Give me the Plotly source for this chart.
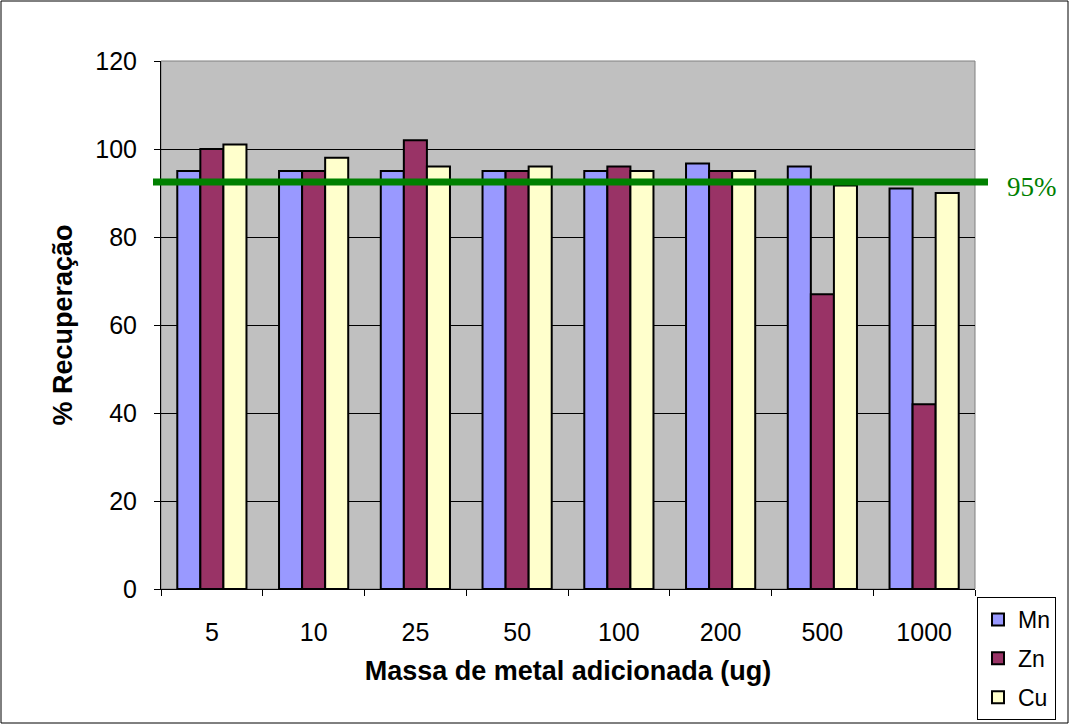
import plotly.graph_objects as go

categories = ["5", "10", "25", "50", "100", "200", "500", "1000"]
mn = [95, 95, 95, 95, 95, 96.7, 96, 91]
zn = [100, 95, 102, 95, 96, 95, 67, 42]
cu = [101, 98, 96, 96, 95, 95, 91.7, 90]
ref_line = 92.5
ref_label = "95%"

W, H = 1070, 725
L, R, T, B = 161, 95, 61, 136
pw = W - L - R
ph = H - T - B

fig = go.Figure()
for name, vals, col in [("Mn", mn, "#9999FF"), ("Zn", zn, "#993366"), ("Cu", cu, "#FFFFCC")]:
    fig.add_trace(go.Bar(x=categories, y=vals, name=name, legendgroup=name,
                         marker=dict(color=col, line=dict(color="black", width=2))))

fig.update_layout(
    width=W, height=H,
    margin=dict(l=L, r=R, t=T, b=B, autoexpand=False),
    paper_bgcolor="white",
    plot_bgcolor="#C0C0C0",
    barmode="group",
    bargap=0.32,
    bargroupgap=0,
    font=dict(family="Liberation Sans, Arial, sans-serif", color="black", size=25),
    showlegend=True,
    legend=dict(x=(977 - L) / pw, y=-(597 - (H - B)) / ph, xanchor="left", yanchor="top",
                bgcolor="white", bordercolor="black", borderwidth=1,
                font=dict(size=23), traceorder="grouped", tracegroupgap=6, itemwidth=30),
    xaxis=dict(
        type="category", tickson="boundaries", ticks="outside", ticklen=6,
        tickcolor="black", showline=True, linecolor="black", linewidth=1,
        showgrid=False, ticklabelstandoff=21, automargin=False,
        title=dict(text="<b>Massa de metal adicionada (ug)</b>", standoff=16,
                   font=dict(size=27)),
    ),
    yaxis=dict(
        range=[0, 120], dtick=20, ticks="outside", ticklen=6, tickcolor="black",
        showline=True, linecolor="black", linewidth=1,
        showgrid=True, gridcolor="black", gridwidth=1, zeroline=False,
        ticklabelstandoff=12, automargin=False,
        title=dict(text="<b>% Recuperação</b>", standoff=14, font=dict(size=27)),
    ),
    shapes=[
        dict(type="rect", xref="paper", yref="paper", x0=0, x1=1, y0=0, y1=1,
             line=dict(color="#808080", width=1), layer="below"),
        dict(type="line", xref="paper", yref="y", x0=(153 - L) / pw, x1=(988 - L) / pw,
             y0=ref_line, y1=ref_line, line=dict(color="#008000", width=7)),
        dict(type="rect", xref="paper", yref="paper",
             x0=(1 - L) / pw, x1=(W - 2 - L) / pw,
             y0=-(H - 2 - (H - B)) / ph, y1=1 + (T - 1) / ph,
             line=dict(color="black", width=1), layer="below"),
    ],
    annotations=[
        dict(text=ref_label, xref="paper", yref="paper",
             x=(1032 - L) / pw, y=1 - (187 - T) / ph, xanchor="center", yanchor="middle",
             showarrow=False,
             font=dict(family="Liberation Serif, Times New Roman, serif", size=27, color="#008000")),
    ],
)

fig.write_html("out.html")
